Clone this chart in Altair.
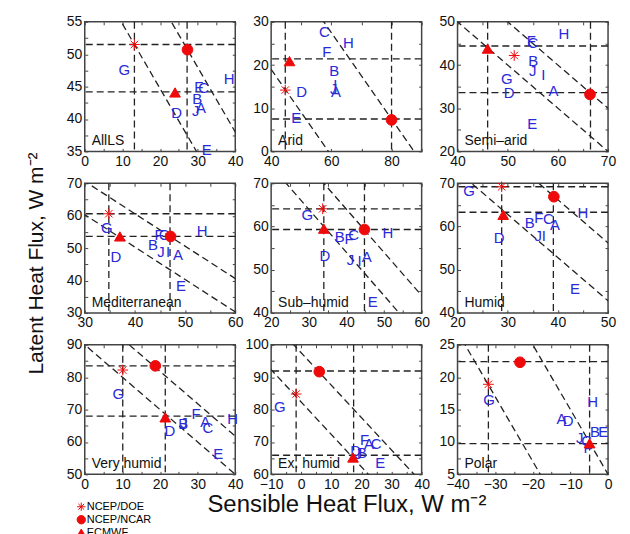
import altair as alt
import pandas as pd

RED = "#ee0a0a"
BLUE = "#2a2ad8"
LINE = "#222222"
FONT = "Liberation Sans"
W, H = 151, 130
DASH = [7, 4]

MODELS = ["NCEP/DOE", "NCEP/NCAR", "ECMWF"]
ASTER = "M-1,0L1,0M0,-1L0,1M-0.7,-0.7L0.7,0.7M-0.7,0.7L0.7,-0.7"

NAMES = ["AllLS", "Arid", "Semi\u2013arid", "Mediterranean", "Sub\u2013humid",
         "Humid", "Very humid", "Ex. humid", "Polar"]
X_DOMAINS = [[0, 40], [40, 90], [40, 70], [30, 60], [20, 60], [20, 50], [0, 40], [-10, 40], [-40, 0]]
Y_DOMAINS = [[35, 55], [0, 30], [20, 50], [30, 70], [40, 70], [40, 70], [50, 90], [60, 100], [5, 25]]
X_STEPS = [10, 20, 10, 10, 10, 10, 10, 10, 10]
Y_STEPS = [5, 10, 10, 10, 10, 10, 10, 10, 5]

# ---- AllLS
allls_letters = ["G", "H", "F", "C", "B", "A", "J", "D", "E"]
allls_lx = [10.5, 38.4, 30.3, 31.6, 29.9, 30.9, 29.5, 24.4, 32.4]
allls_ly = [47.6, 46.1, 45.0, 44.8, 43.1, 41.7, 41.3, 40.9, 35.2]
allls_mx = [13.2, 27.3, 24.0]
allls_my = [51.5, 50.7, 44.1]
allls_h = [51.5, 44.2]
allls_v = [13.2, 27.2]
allls_sum = [64.7, 78.0]

# ---- Arid
arid_letters = ["C", "H", "F", "B", "I", "J", "A", "D", "E"]
arid_lx = [57.7, 65.7, 58.5, 61.0, 61.3, 60.8, 61.5, 50.1, 48.3]
arid_ly = [27.7, 25.0, 23.1, 18.5, 15.4, 14.5, 13.7, 13.8, 7.7]
arid_mx = [44.7, 80.0, 46.1]
arid_my = [14.2, 7.3, 20.9]
arid_h = [21.4, 7.5]
arid_v = [44.7, 80.0]
arid_sum = [59.0, 87.5]

# ---- Semi-arid
semi_letters = ["H", "F", "C", "B", "J", "I", "G", "A", "D", "E"]
semi_lx = [61.2, 54.7, 55.0, 55.1, 55.0, 57.1, 49.8, 59.1, 50.3, 54.9]
semi_ly = [47.2, 45.6, 45.2, 40.9, 38.5, 37.7, 36.8, 34.0, 33.5, 26.3]
semi_mx = [51.3, 66.4, 46.0]
semi_my = [42.2, 33.2, 43.8]
semi_h = [44.4, 33.6]
semi_v = [46.0, 66.5]
semi_sum = [90.0, 100.0]

# ---- Mediterranean
med_letters = ["G", "F", "C", "B", "J", "I", "A", "H", "D", "E"]
med_lx = [34.4, 44.8, 45.8, 43.6, 45.2, 46.6, 48.6, 53.4, 36.2, 49.2]
med_ly = [56.2, 54.1, 54.1, 51.0, 48.7, 48.7, 48.0, 55.4, 47.2, 38.4]
med_mx = [34.8, 47.1, 37.0]
med_my = [60.6, 53.6, 53.6]
med_h = [60.6, 53.6]
med_v = [34.8, 47.0]
med_sum = [90.3, 100.6]

# ---- Sub-humid
sub_letters = ["G", "B", "F", "C", "H", "D", "J", "I", "A", "E"]
sub_lx = [29.6, 38.2, 40.7, 41.9, 51.0, 34.3, 41.1, 43.5, 45.4, 47.0]
sub_ly = [62.6, 57.5, 57.0, 58.0, 58.5, 53.2, 52.2, 52.0, 52.9, 42.5]
sub_mx = [33.7, 44.8, 34.0]
sub_my = [64.1, 59.3, 59.5]
sub_h = [64.1, 59.3]
sub_v = [34.0, 44.8]
sub_sum = [94.0, 104.0]

# ---- Humid
hum_letters = ["G", "B", "F", "C", "A", "J", "I", "D", "H", "E"]
hum_lx = [22.3, 34.4, 36.2, 38.1, 39.4, 36.1, 37.2, 28.3, 45.0, 43.4]
hum_ly = [68.1, 60.9, 61.9, 61.7, 60.4, 57.7, 57.8, 57.3, 63.2, 45.5]
hum_mx = [28.8, 39.2, 29.1]
hum_my = [69.2, 66.9, 62.7]
hum_h = [69.2, 63.3]
hum_v = [28.8, 39.1]
hum_sum = [92.8, 106.2]

# ---- Very humid
vh_letters = ["G", "D", "B", "J", "F", "A", "C", "H", "E"]
vh_lx = [8.9, 22.6, 26.2, 26.4, 29.6, 32.0, 32.7, 39.3, 35.5]
vh_ly = [74.8, 63.4, 65.5, 65.9, 68.7, 66.1, 64.2, 67.2, 56.2]
vh_mx = [10.1, 18.75, 21.4]
vh_my = [82.2, 83.5, 67.6]
vh_h = [83.5, 68.0]
vh_v = [10.1, 21.4]
vh_sum = [90.0, 101.8]

# ---- Ex. humid
ex_letters = ["G", "D", "J", "B", "F", "A", "C", "E"]
ex_lx = [-7.1, 18.1, 19.0, 20.2, 21.0, 22.5, 24.9, 26.2]
ex_ly = [80.9, 67.2, 66.2, 66.7, 70.5, 69.5, 69.5, 63.5]
ex_mx = [-1.7, 6.0, 17.2]
ex_my = [84.8, 91.7, 65.2]
ex_h = [91.9, 65.9]
ex_v = [-1.7, 17.4]
ex_sum = [82.3, 97.5]

# ---- Polar
pol_letters = ["G", "H", "A", "D", "B", "E", "J", "C", "F"]
pol_lx = [-31.6, -4.1, -12.4, -10.6, -3.5, -1.3, -7.5, -5.7, -5.3]
pol_ly = [16.5, 16.2, 13.5, 13.3, 11.5, 11.5, 10.6, 10.2, 9.0]
pol_mx = [-31.8, -23.4, -4.9]
pol_my = [18.9, 22.3, 9.8]
pol_h = [22.4, 9.75]
pol_v = [-31.8, -4.9]
pol_sum = [-13.0, 5.0]

PANELS = [
    (allls_letters, allls_lx, allls_ly, allls_mx, allls_my, allls_h, allls_v, allls_sum),
    (arid_letters, arid_lx, arid_ly, arid_mx, arid_my, arid_h, arid_v, arid_sum),
    (semi_letters, semi_lx, semi_ly, semi_mx, semi_my, semi_h, semi_v, semi_sum),
    (med_letters, med_lx, med_ly, med_mx, med_my, med_h, med_v, med_sum),
    (sub_letters, sub_lx, sub_ly, sub_mx, sub_my, sub_h, sub_v, sub_sum),
    (hum_letters, hum_lx, hum_ly, hum_mx, hum_my, hum_h, hum_v, hum_sum),
    (vh_letters, vh_lx, vh_ly, vh_mx, vh_my, vh_h, vh_v, vh_sum),
    (ex_letters, ex_lx, ex_ly, ex_mx, ex_my, ex_h, ex_v, ex_sum),
    (pol_letters, pol_lx, pol_ly, pol_mx, pol_my, pol_h, pol_v, pol_sum),
]

Y_TITLE = "Latent Heat Flux, W m\u207b\u00b2"
X_TITLE = "Sensible Heat Flux, W m\u207b\u00b2"


def seq(dom, step):
    n = int(round((dom[1] - dom[0]) / step))
    return [dom[0] + k * step for k in range(n + 1)]


def label_axis(orient, values, title=None, extra=None):
    kw = dict(orient=orient, values=values, ticks=False, domain=False, grid=False,
              labelFlush=False, labelOverlap=False, labelPadding=3)
    if title:
        kw.update(title=title, titleFontWeight="normal")
        if extra:
            kw.update(extra)
    else:
        kw["title"] = None
    return alt.Axis(**kw)


def tick_axis(orient, values):
    return alt.Axis(orient=orient, values=values, labels=False, domain=False, grid=False,
                    ticks=True, tickSize=3, offset=-3, title=None, tickColor="#444",
                    tickWidth=1)


shape_scale = alt.Scale(domain=MODELS, range=[ASTER, "circle", "triangle-up"])
red_scale = alt.Scale(domain=MODELS, range=[RED, RED, RED])
legend = alt.Legend(orient="none", legendX=-9, legendY=481, title=None,
                    labelFontSize=11, labelFont=FONT, symbolSize=70,
                    symbolStrokeWidth=1, rowPadding=0, padding=0, labelOffset=0)


def panel(i):
    letters, lx, ly, mx, my, hl, vl, sums = PANELS[i]
    xd, yd = X_DOMAINS[i], Y_DOMAINS[i]
    xs = alt.Scale(domain=xd, nice=False, zero=False)
    ys = alt.Scale(domain=yd, nice=False, zero=False)
    xmaj, ymaj = seq(xd, X_STEPS[i]), seq(yd, Y_STEPS[i])
    xt, yt = seq(xd, X_STEPS[i] / 2), seq(yd, Y_STEPS[i] / 2)

    xtitle = X_TITLE if i == 7 else None
    ytitle = Y_TITLE if i == 3 else None
    yextra = dict(titleX=-38, titleY=80, titleFontSize=21) if i == 3 else None
    xextra = dict(titlePadding=1, titleFontSize=24) if i == 7 else None

    ldf = pd.DataFrame({"label": letters, "x": lx, "y": ly})
    mdf = pd.DataFrame({"model": MODELS, "x": mx, "y": my})
    hdf = pd.DataFrame({"y": hl})
    vdf = pd.DataFrame({"x": vl})
    rows = []
    for k, s in enumerate(sums):
        rows.append({"id": k, "x": xd[0] - 50, "y": s - (xd[0] - 50)})
        rows.append({"id": k, "x": xd[1] + 50, "y": s - (xd[1] + 50)})
    ddf = pd.DataFrame(rows)
    tdf = pd.DataFrame({"name": [NAMES[i]], "x": [xd[0]], "y": [yd[0]]})

    hr = alt.Chart(hdf).mark_rule(color=LINE, strokeDash=DASH, strokeWidth=1.3).encode(
        y=alt.Y("y:Q", scale=ys, axis=None))
    vr = alt.Chart(vdf).mark_rule(color=LINE, strokeDash=DASH, strokeWidth=1.3).encode(
        x=alt.X("x:Q", scale=xs, axis=None))
    diag = alt.Chart(ddf).mark_line(clip=True, color=LINE, strokeDash=DASH, strokeWidth=1.3).encode(
        x=alt.X("x:Q", scale=xs, axis=tick_axis("bottom", xt)),
        y=alt.Y("y:Q", scale=ys, axis=tick_axis("left", yt)),
        detail="id:N")
    let = alt.Chart(ldf).mark_text(color=BLUE, fontSize=15, font=FONT, align="center",
                                   baseline="middle").encode(
        x=alt.X("x:Q", scale=xs, axis=label_axis("bottom", xmaj, xtitle, xextra)),
        y=alt.Y("y:Q", scale=ys, axis=label_axis("left", ymaj, ytitle, yextra)),
        text="label:N")
    mk = alt.Chart(mdf).mark_point(filled=True, size=115, strokeWidth=1, opacity=1).encode(
        x=alt.X("x:Q", scale=xs, axis=tick_axis("top", xt)),
        y=alt.Y("y:Q", scale=ys, axis=tick_axis("right", yt)),
        shape=alt.Shape("model:N", scale=shape_scale, legend=legend),
        fill=alt.Fill("model:N", scale=red_scale, legend=legend),
        stroke=alt.Stroke("model:N", scale=red_scale, legend=legend))
    lab = alt.Chart(tdf).mark_text(color="#111", fontSize=14, font=FONT, align="left",
                                   baseline="alphabetic", dx=7, dy=-6).encode(
        x=alt.X("x:Q", scale=xs, axis=None),
        y=alt.Y("y:Q", scale=ys, axis=None),
        text="name:N")
    return alt.layer(hr, vr, diag, let, mk, lab).resolve_axis(
        x="independent", y="independent").properties(width=W, height=H)


chart = alt.concat(*[panel(i) for i in range(9)], columns=3,
                   spacing={"row": 32, "column": 36}, bounds="flush").properties(
    padding={"left": 17, "top": 5, "right": 5, "bottom": 5}
).configure_view(stroke="#444", strokeWidth=1.5).configure_axis(
    labelFont=FONT, labelFontSize=14, labelColor="#111", titleFont=FONT, titleColor="#111")

chart.save("out.html", embed_options={"renderer": "svg", "actions": False})
